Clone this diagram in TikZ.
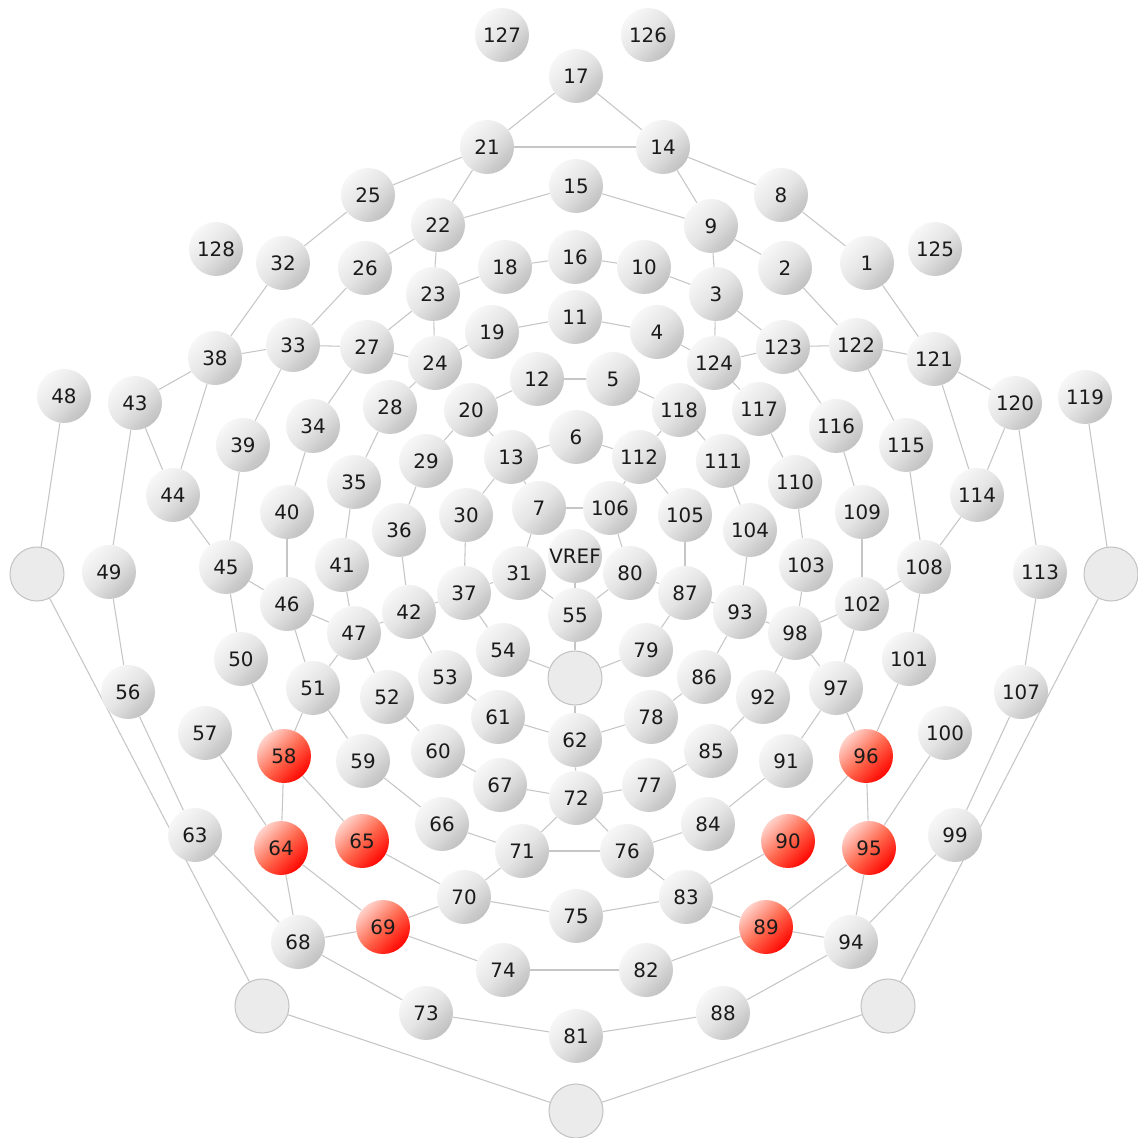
\documentclass[tikz,border=0pt]{standalone}
\usepackage{fontspec}
\setmainfont{DejaVu Sans}
\usetikzlibrary{backgrounds}

\definecolor{wiregray}{HTML}{C6C6C6}
\definecolor{balltop}{HTML}{F7F7F7}
\definecolor{ballmid}{HTML}{E4E4E4}
\definecolor{ballbot}{HTML}{C0C0C0}
\definecolor{redtop}{HTML}{FFD2CA}
\definecolor{redmid}{HTML}{FF6A50}
\definecolor{redbot}{HTML}{FF0600}
\definecolor{padfill}{HTML}{EBEBEB}
\definecolor{padline}{HTML}{C4C4C4}
\definecolor{labeltext}{HTML}{1A1A1A}

\tikzset{
  electrode/.style={circle, inner sep=0pt, minimum size=1.08cm,
    shade, top color=balltop, bottom color=ballbot, middle color=ballmid,
    shading angle=45, text=labeltext,
    font=\fontsize{11.3}{13}\selectfont},
  marked/.style={electrode, top color=redtop, bottom color=redbot,
    middle color=redmid, shading angle=45},
  pad/.style={circle, inner sep=0pt, minimum size=1.08cm,
    fill=padfill, draw=padline, line width=0.6pt},
  wire/.style={draw=wiregray, line width=0.6pt},
}

\begin{document}
\begin{tikzpicture}[x=0.02cm, y=-0.02cm]
\useasboundingbox (0,0) rectangle (1138,1138);

% grey electrodes
\foreach \n/\x/\y in {
  127/502/35, 126/648/35, 17/576/76, 21/487/147, 14/663/147,
  25/368/195, 15/576/186, 8/781/195, 22/438/225, 9/711/226,
  128/216/249, 125/935/249, 32/283/263, 26/365/268, 18/505/267,
  16/575/257, 10/644/267, 2/785/268, 1/867/263, 23/433/294, 3/716/294,
  33/293/345, 27/367/347, 19/492/332, 11/575/317, 4/657/332,
  123/783/347, 122/856/345, 121/934/359, 38/215/358, 24/435/363,
  124/714/363, 48/64/396, 43/135/403, 12/537/379, 5/613/379,
  118/679/410, 117/759/409, 120/1015/403, 119/1085/397,
  28/390/407, 20/471/410, 34/313/426, 116/836/426, 115/906/445,
  39/243/445, 6/576/437, 112/639/457, 13/511/457, 29/426/461,
  111/723/461, 44/173/495, 114/977/495, 35/354/482, 110/795/482,
  40/287/512, 30/466/515, 7/539/508, 106/610/508, 105/685/515,
  109/862/512, 36/399/530, 104/750/530,
  49/109/572, 45/226/567, 41/342/565, 31/519/573, 80/630/573,
  103/806/565, 108/924/567, 113/1040/572, 46/287/604, 37/464/593,
  87/685/593, 102/862/604, 42/409/612, 55/575/615, 93/740/612,
  47/354/633, 98/795/633, 54/503/650, 79/646/650, 50/241/659,
  101/909/659, 53/445/677, 86/704/677, 51/313/688, 52/387/697,
  97/836/688, 92/763/697, 56/128/692, 107/1021/692, 61/498/717,
  78/651/717, 57/205/733, 100/945/733, 62/575/740, 59/363/761,
  60/438/751, 85/711/751, 91/786/761, 67/500/785, 77/649/785,
  72/576/798, 66/442/824, 84/708/824, 63/195/835, 99/955/835,
  71/522/851, 76/627/851, 70/464/897, 83/686/897, 75/576/916,
  68/298/942, 94/851/942, 74/503/970, 82/646/970,
  73/426/1013, 88/723/1013, 81/576/1036}
  \node[electrode] (e\n) at (\x,\y) {\n};

% highlighted electrodes
\foreach \n/\x/\y in {
  58/284/756, 96/866/756, 65/362/841, 90/788/841,
  64/281/848, 95/869/848, 69/383/927, 89/766/927}
  \node[marked] (e\n) at (\x,\y) {\n};

% reference electrode
\node[electrode] (eV) at (575,556) {VREF};

% unlabeled pads
\node[pad] (eL)   at (37,574) {};
\node[pad] (eR)   at (1111,574) {};
\node[pad] (eC)   at (575,678) {};
\node[pad] (eBL)  at (262,1006) {};
\node[pad] (eBR)  at (888,1006) {};
\node[pad] (eBot) at (576,1111) {};

\begin{pgfonlayer}{background}
\fill[white] (0,0) rectangle (1138,1138);
\foreach \a/\b in {
  17/21, 17/14, 21/14,
  21/25, 25/32, 32/38, 38/43,
  14/8, 8/1, 1/121, 121/120,
  21/22, 14/9, 22/15, 15/9,
  22/26, 26/33, 33/39, 9/2, 2/122, 122/115,
  22/23, 9/3, 23/18, 18/16, 16/10, 10/3,
  23/27, 27/34, 3/123, 123/116,
  23/24, 3/124, 24/19, 19/11, 11/4, 4/124,
  27/24, 124/123, 38/33, 33/27, 123/122, 122/121,
  24/28, 124/117, 28/35, 117/110,
  20/12, 12/5, 5/118, 20/13, 118/112, 20/29, 118/111,
  13/6, 6/112, 13/7, 112/106, 7/106, 13/30, 112/105,
  29/36, 111/104, 7/31, 106/80, 30/37, 105/87,
  36/42, 104/93, 31/37, 80/87, 31/55, 80/55, V/55,
  37/42, 87/93, 42/47, 93/98, 37/54, 87/79, 42/53, 93/86,
  55/C, 54/C, 79/C, C/62, 53/61, 86/78, 61/62, 62/78, 62/72,
  38/44, 43/44, 43/49, 121/114, 120/114, 120/113,
  44/45, 114/108, 39/45, 115/108, 34/40, 116/109,
  35/41, 110/103, 40/46, 109/102, 41/47, 103/98,
  45/46, 108/102, 46/47, 102/98, 45/50, 108/101,
  50/58, 101/96, 46/51, 102/97, 47/51, 98/97,
  51/58, 97/96, 47/52, 98/92, 51/59, 97/91,
  52/60, 92/85, 59/66, 91/84, 60/67, 85/77,
  67/72, 77/72, 66/71, 84/76, 71/72, 72/76, 71/76,
  58/64, 96/95, 58/65, 96/90, 57/64, 100/95,
  65/70, 90/83, 70/71, 76/83, 70/75, 75/83,
  64/69, 95/89, 69/70, 89/83, 64/68, 95/94, 68/69, 89/94,
  69/74, 89/82, 74/82, 68/73, 94/88, 73/81, 88/81,
  63/68, 99/94, 56/63, 107/99, 49/56, 113/107,
  48/L, 119/R, L/BL, R/BR, BL/Bot, BR/Bot}
  \draw[wire] (e\a) -- (e\b);
\end{pgfonlayer}
\end{tikzpicture}
\end{document}
